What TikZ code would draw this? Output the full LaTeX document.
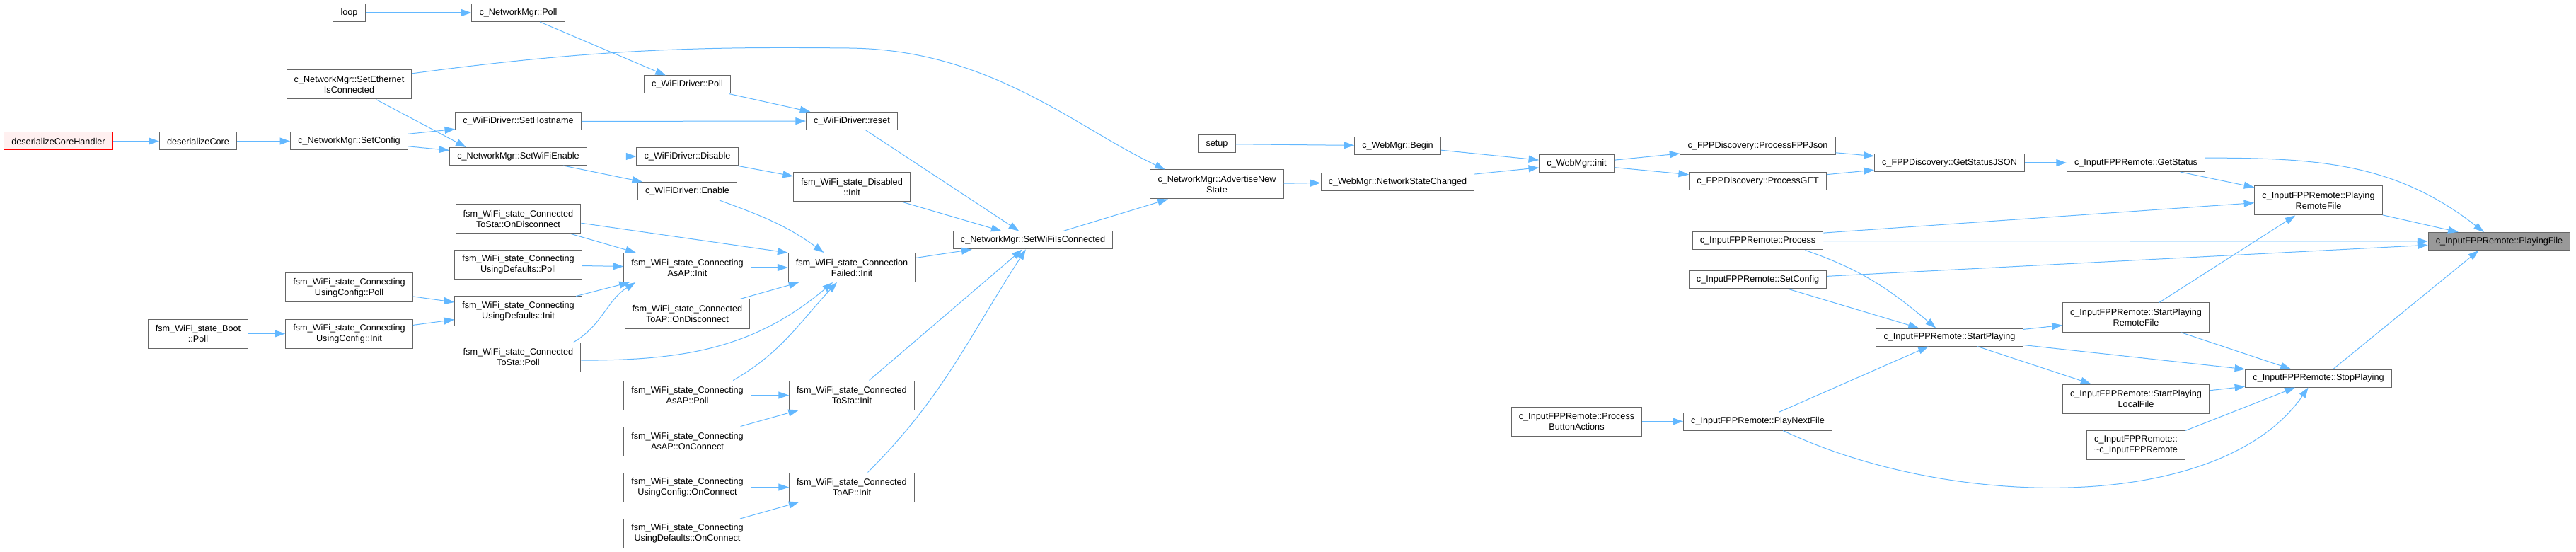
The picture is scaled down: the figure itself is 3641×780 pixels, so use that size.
\documentclass[tikz,border=0pt]{standalone}
\usepackage{fontspec}
\setmainfont{Liberation Sans}
\usetikzlibrary{arrows.meta}
\definecolor{Sky}{RGB}{99,184,255}
\definecolor{Rim}{RGB}{102,102,102}
\definecolor{Blush}{RGB}{255,240,240}
\definecolor{Ash}{RGB}{153,153,153}

\begin{document}
\begin{tikzpicture}[x=0.75pt,y=0.75pt,
 b/.style={draw=Rim,fill=white,line width=0.75pt,inner xsep=8pt,inner ysep=2pt,minimum height=18.75pt,align=center,font=\fontsize{9.5}{11.25}\selectfont},
 bl/.style={b,minimum height=30.75pt},
 a/.style={-{Triangle[length=11pt,width=7.5pt]},line width=0.75pt,Sky}]
\useasboundingbox (0,0) rectangle (3641,-780);
\node[b,draw=red,fill=Blush] (dch) at (82.5,-199.5) {deserializeCoreHandler};
\node[b] (dc) at (280,-199.5) {deserializeCore};
\node[bl] (bp) at (280,-471.5) {fsm\_WiFi\_state\_Boot\\::Poll};
\node[b] (lp) at (493.5,-18) {loop};
\node[bl] (se) at (493.5,-119.5) {c\_NetworkMgr::SetEthernet\\IsConnected};
\node[b] (sc) at (493.5,-199.5) {c\_NetworkMgr::SetConfig};
\node[bl] (ucp) at (493.5,-406.5) {fsm\_WiFi\_state\_Connecting\\UsingConfig::Poll};
\node[bl] (uci) at (493.5,-471.5) {fsm\_WiFi\_state\_Connecting\\UsingConfig::Init};
\node[b] (np) at (732.5,-18) {c\_NetworkMgr::Poll};
\node[b] (sh) at (732.5,-171.5) {c\_WiFiDriver::SetHostname};
\node[b] (swe) at (732.5,-221) {c\_NetworkMgr::SetWiFiEnable};
\node[bl] (tsod) at (732.5,-309) {fsm\_WiFi\_state\_Connected\\ToSta::OnDisconnect};
\node[bl] (udp) at (732.5,-374) {fsm\_WiFi\_state\_Connecting\\UsingDefaults::Poll};
\node[bl] (udi) at (732.5,-439.5) {fsm\_WiFi\_state\_Connecting\\UsingDefaults::Init};
\node[bl] (tsp) at (732.5,-504.5) {fsm\_WiFi\_state\_Connected\\ToSta::Poll};
\node[b] (wp) at (971.5,-119.5) {c\_WiFiDriver::Poll};
\node[b] (dis) at (971.5,-221) {c\_WiFiDriver::Disable};
\node[b] (en) at (971.5,-270) {c\_WiFiDriver::Enable};
\node[bl] (aai) at (971.5,-378) {fsm\_WiFi\_state\_Connecting\\AsAP::Init};
\node[bl] (taod) at (971.5,-443.5) {fsm\_WiFi\_state\_Connected\\ToAP::OnDisconnect};
\node[bl] (aap) at (971.5,-558.5) {fsm\_WiFi\_state\_Connecting\\AsAP::Poll};
\node[bl] (aaoc) at (971.5,-623.5) {fsm\_WiFi\_state\_Connecting\\AsAP::OnConnect};
\node[bl] (ucoc) at (971.5,-688.5) {fsm\_WiFi\_state\_Connecting\\UsingConfig::OnConnect};
\node[bl] (udoc) at (971.5,-754) {fsm\_WiFi\_state\_Connecting\\UsingDefaults::OnConnect};
\node[b] (rs) at (1204,-171) {c\_WiFiDriver::reset};
\node[bl] (dsi) at (1204,-264.5) {fsm\_WiFi\_state\_Disabled\\::Init};
\node[bl] (cfi) at (1204,-378) {fsm\_WiFi\_state\_Connection\\Failed::Init};
\node[bl] (tsi) at (1204,-558.5) {fsm\_WiFi\_state\_Connected\\ToSta::Init};
\node[bl] (tai) at (1204,-688.5) {fsm\_WiFi\_state\_Connected\\ToAP::Init};
\node[b] (swic) at (1460,-339.5) {c\_NetworkMgr::SetWiFiIsConnected};
\node[b] (su) at (1720,-203.5) {setup};
\node[bl] (ans) at (1720,-260.5) {c\_NetworkMgr::AdvertiseNew\\State};
\node[b] (wb) at (1975.5,-206) {c\_WebMgr::Begin};
\node[b] (wnsc) at (1975.5,-257) {c\_WebMgr::NetworkStateChanged};
\node[b] (wi) at (2228.5,-231.5) {c\_WebMgr::init};
\node[bl] (pba) at (2228.5,-595.5) {c\_InputFPPRemote::Process\\ButtonActions};
\node[b] (pfj) at (2484.5,-206) {c\_FPPDiscovery::ProcessFPPJson};
\node[b] (pg) at (2484.5,-256) {c\_FPPDiscovery::ProcessGET};
\node[b] (pr) at (2484.5,-340.5) {c\_InputFPPRemote::Process};
\node[b] (isc) at (2484.5,-395.5) {c\_InputFPPRemote::SetConfig};
\node[b] (pnf) at (2484.5,-595.5) {c\_InputFPPRemote::PlayNextFile};
\node[b] (gsj) at (2755.5,-230) {c\_FPPDiscovery::GetStatusJSON};
\node[b] (stp) at (2755.5,-476.5) {c\_InputFPPRemote::StartPlaying};
\node[b] (gs) at (3019,-230) {c\_InputFPPRemote::GetStatus};
\node[bl] (sprf) at (3019,-448.5) {c\_InputFPPRemote::StartPlaying\\RemoteFile};
\node[bl] (splf) at (3019,-563.5) {c\_InputFPPRemote::StartPlaying\\LocalFile};
\node[bl] (dtor) at (3019,-628.5) {c\_InputFPPRemote::\\\textasciitilde c\_InputFPPRemote};
\node[bl] (prf) at (3277,-283.5) {c\_InputFPPRemote::Playing\\RemoteFile};
\node[b] (stop) at (3277,-534.5) {c\_InputFPPRemote::StopPlaying};
\node[b,fill=Ash] (pf) at (3532.5,-341) {c\_InputFPPRemote::PlayingFile};
\draw[a] (dch)--(dc);\draw[a] (dc)--(sc);\draw[a] (lp)--(np);\draw[a] (bp)--(uci);
\draw[a] (se.-29)--(swe.170);
\draw[a] (se.10) .. controls (850,-68) and (1000,-66) .. (1200,-68) .. controls (1400,-70) and (1520,-180) .. (ans.164);
\draw[a] (sc.7)--(sh.-173);\draw[a] (sc.-5)--(swe.175);
\draw[a] (ucp)--(udi);\draw[a] (uci)--(udi);
\draw[a] (np)--(wp);\draw[a] (wp)--(rs);\draw[a] (sh)--(rs);
\draw[a] (swe)--(dis);\draw[a] (swe)--(en);\draw[a] (dis)--(dsi);
\draw[a] (en.-16) to[out=-20,in=144] (cfi.152);
\draw[a] (tsod.-4)--(cfi.167);\draw[a] (tsod)--(aai);
\draw[a] (udp)--(aai);\draw[a] (udi)--(aai);\draw[a] (aai)--(cfi);
\draw[a] (tsp.15) to[out=31,in=-148] (aai.-164);
\draw[a] (tsp.-3) to[out=0,in=-140] (cfi.-142);
\draw[a] (taod)--(cfi);
\draw[a] (aap.18) to[out=30,in=-133] (cfi.-135);
\draw[a] (aap)--(tsi);\draw[a] (aaoc)--(tsi);
\draw[a] (ucoc)--(tai);\draw[a] (udoc)--(tai);
\draw[a] (rs)--(swic);\draw[a] (dsi)--(swic);\draw[a] (cfi)--(swic);\draw[a] (tsi)--(swic);
\draw[a] (tai.43) to[out=45,in=-123] (swic.-128);
\draw[a] (swic)--(ans);\draw[a] (su)--(wb);\draw[a] (ans)--(wnsc);
\draw[a] (wb)--(wi);\draw[a] (wnsc)--(wi);
\draw[a] (wi)--(pfj);\draw[a] (wi)--(pg);
\draw[a] (pfj)--(gsj);\draw[a] (pg)--(gsj);\draw[a] (gsj)--(gs);
\draw[a] (gs.4) to[out=0,in=142] (pf.149);
\draw[a] (gs)--(prf);
\draw[a] (pr.7)--(prf.-178);\draw[a] (pr)--(pf);
\draw[a] (pr.-11) to[out=-19,in=140] (stp.146);
\draw[a] (isc.3)--(pf.-177);\draw[a] (isc)--(stp);
\draw[a] (prf)--(pf);\draw[a] (sprf)--(prf);
\draw[a] (stop.32)--(pf.-156);
\draw[a] (stp)--(sprf);\draw[a] (stp.-6)--(stop.173);\draw[a] (stp)--(splf);
\draw[a] (sprf)--(stop);\draw[a] (splf)--(stop);\draw[a] (dtor.16)--(stop);
\draw[a] (pnf.-20) .. controls (2760,-722) and (3140,-725) .. (stop.-138);
\draw[a] (pnf)--(stp);\draw[a] (pba)--(pnf);
\end{tikzpicture}
\end{document}
